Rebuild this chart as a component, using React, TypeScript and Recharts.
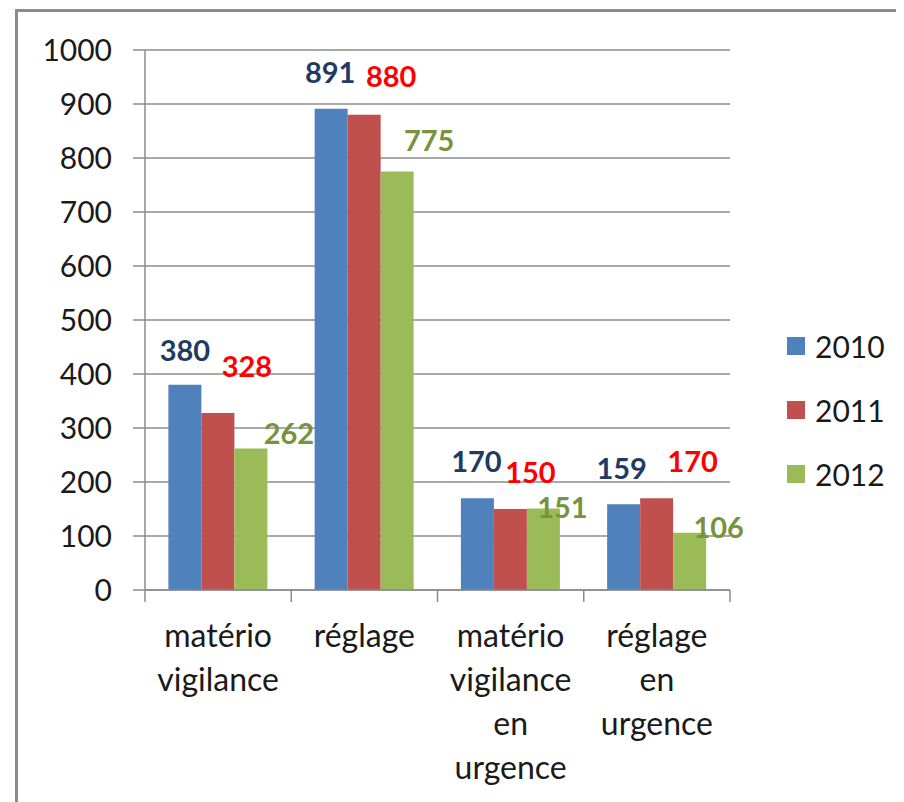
import React from "react";
import { BarChart, Bar, XAxis, YAxis, CartesianGrid, LabelList } from "recharts";

// ---- data ----
const categories = [
  "matério\nvigilance",
  "réglage",
  "matério\nvigilance\nen\nurgence",
  "réglage\nen\nurgence",
];
const years = ["2010", "2011", "2012"];
const values2010 = [380, 891, 170, 159];
const values2011 = [328, 880, 150, 170];
const values2012 = [262, 775, 151, 106];
const yTicks = [0, 100, 200, 300, 400, 500, 600, 700, 800, 900, 1000];

// ---- styles ----
const barColors: Record<string, string> = { "2010": "#4F81BD", "2011": "#C0504D", "2012": "#9BBB59" };
const labelColors: Record<string, string> = { "2010": "#1F3B64", "2011": "#FF0000", "2012": "#77933C" };
// label nudges (relative to the top-centre of each bar), per series and category
const labelNudgeX: Record<string, number[]> = {
  "2010": [0, -1, -1, -2],
  "2011": [29, 27, 20, 36],
  "2012": [38, 32, 19, 29],
};
const labelNudgeY: Record<string, number[]> = {
  "2010": [-34, -36, -36, -35],
  "2011": [-46, -38, -36, -36],
  "2012": [-15, -31, -1, -5],
};

const FONT = "Lato, 'Open Sans', sans-serif";
const W = 904;
const H = 802;
const MARGIN = { top: 50, right: 174, bottom: 12, left: 45 };
const Y_AXIS_W = 100;
const X_AXIS_H = 200;
const PLOT_LEFT = MARGIN.left + Y_AXIS_W;
const PLOT_W = W - MARGIN.right - PLOT_LEFT;
const PLOT_BOTTOM = H - MARGIN.bottom - X_AXIS_H;
const GRID = "#8c8c8c";

const data = categories.map((c, i) => ({
  name: c,
  "2010": values2010[i],
  "2011": values2011[i],
  "2012": values2012[i],
}));

const XTick = (props: any) => {
  const { x, payload, index } = props;
  const band = PLOT_W / categories.length;
  const lines = String(payload.value).split("\n");
  return (
    <g>
      <line x1={x - band / 2} x2={x - band / 2} y1={PLOT_BOTTOM} y2={PLOT_BOTTOM + 12} stroke={GRID} strokeWidth={1.5} />
      {index === categories.length - 1 && (
        <line x1={x + band / 2} x2={x + band / 2} y1={PLOT_BOTTOM} y2={PLOT_BOTTOM + 12} stroke={GRID} strokeWidth={1.5} />
      )}
      {lines.map((l, i) => (
        <text
          key={i}
          x={x}
          y={PLOT_BOTTOM + 46 + i * 44}
          dy="0.35em"
          textAnchor="middle"
          fontFamily={FONT}
          fontSize={32}
          fill="#1a1a1a"
        >
          {l}
        </text>
      ))}
    </g>
  );
};

const makeLabel = (year: string) => (props: any) => {
  const { x, y, width, value, index } = props;
  return (
    <text
      x={Number(x) + Number(width) / 2 + labelNudgeX[year][index]}
      y={Number(y) + labelNudgeY[year][index]}
      dy="0.35em"
      textAnchor="middle"
      fontFamily={FONT}
      fontSize={29}
      fontWeight="bold"
      fill={labelColors[year]}
    >
      {value}
    </text>
  );
};

export default function App() {
  return (
    <div style={{ position: "relative", width: W, height: H, margin: "-8px 0 0 -8px", overflow: "hidden", background: "#fff" }}>
      <div
        style={{
          position: "absolute",
          left: 15,
          top: 9,
          width: W,
          height: H,
          borderTop: "3px solid #8c8c8c",
          borderLeft: "3px solid #8c8c8c",
        }}
      />
      <div style={{ position: "absolute", left: 0, top: 0 }}>
        <BarChart width={W} height={H} data={data} margin={MARGIN} barCategoryGap="16%" barGap={0}>
          <CartesianGrid vertical={false} stroke={GRID} strokeWidth={1.5} />
          <XAxis
            dataKey="name"
            height={X_AXIS_H}
            interval={0}
            axisLine={{ stroke: GRID, strokeWidth: 1.5 }}
            tickLine={false}
            tick={<XTick />}
          />
          <YAxis
            width={Y_AXIS_W}
            domain={[0, 1000]}
            ticks={yTicks}
            interval={0}
            tickSize={12}
            tickMargin={21}
            axisLine={{ stroke: GRID, strokeWidth: 1.5 }}
            tickLine={{ stroke: GRID, strokeWidth: 1.5 }}
            tick={{ fontFamily: FONT, fontSize: 30, fill: "#1a1a1a" }}
          />
          {years.map((yr) => (
            <Bar key={yr} dataKey={yr} fill={barColors[yr]} isAnimationActive={false}>
              <LabelList dataKey={yr} content={makeLabel(yr)} />
            </Bar>
          ))}
        </BarChart>
      </div>
      <div style={{ position: "absolute", left: 787, top: 314, fontFamily: FONT, fontSize: 30, color: "#1a1a1a" }}>
        {years.map((yr) => (
          <div key={yr} style={{ display: "flex", alignItems: "center", height: 64 }}>
            <div style={{ width: 18, height: 18, background: barColors[yr], marginRight: 10 }} />
            <span>{yr}</span>
          </div>
        ))}
      </div>
    </div>
  );
}
